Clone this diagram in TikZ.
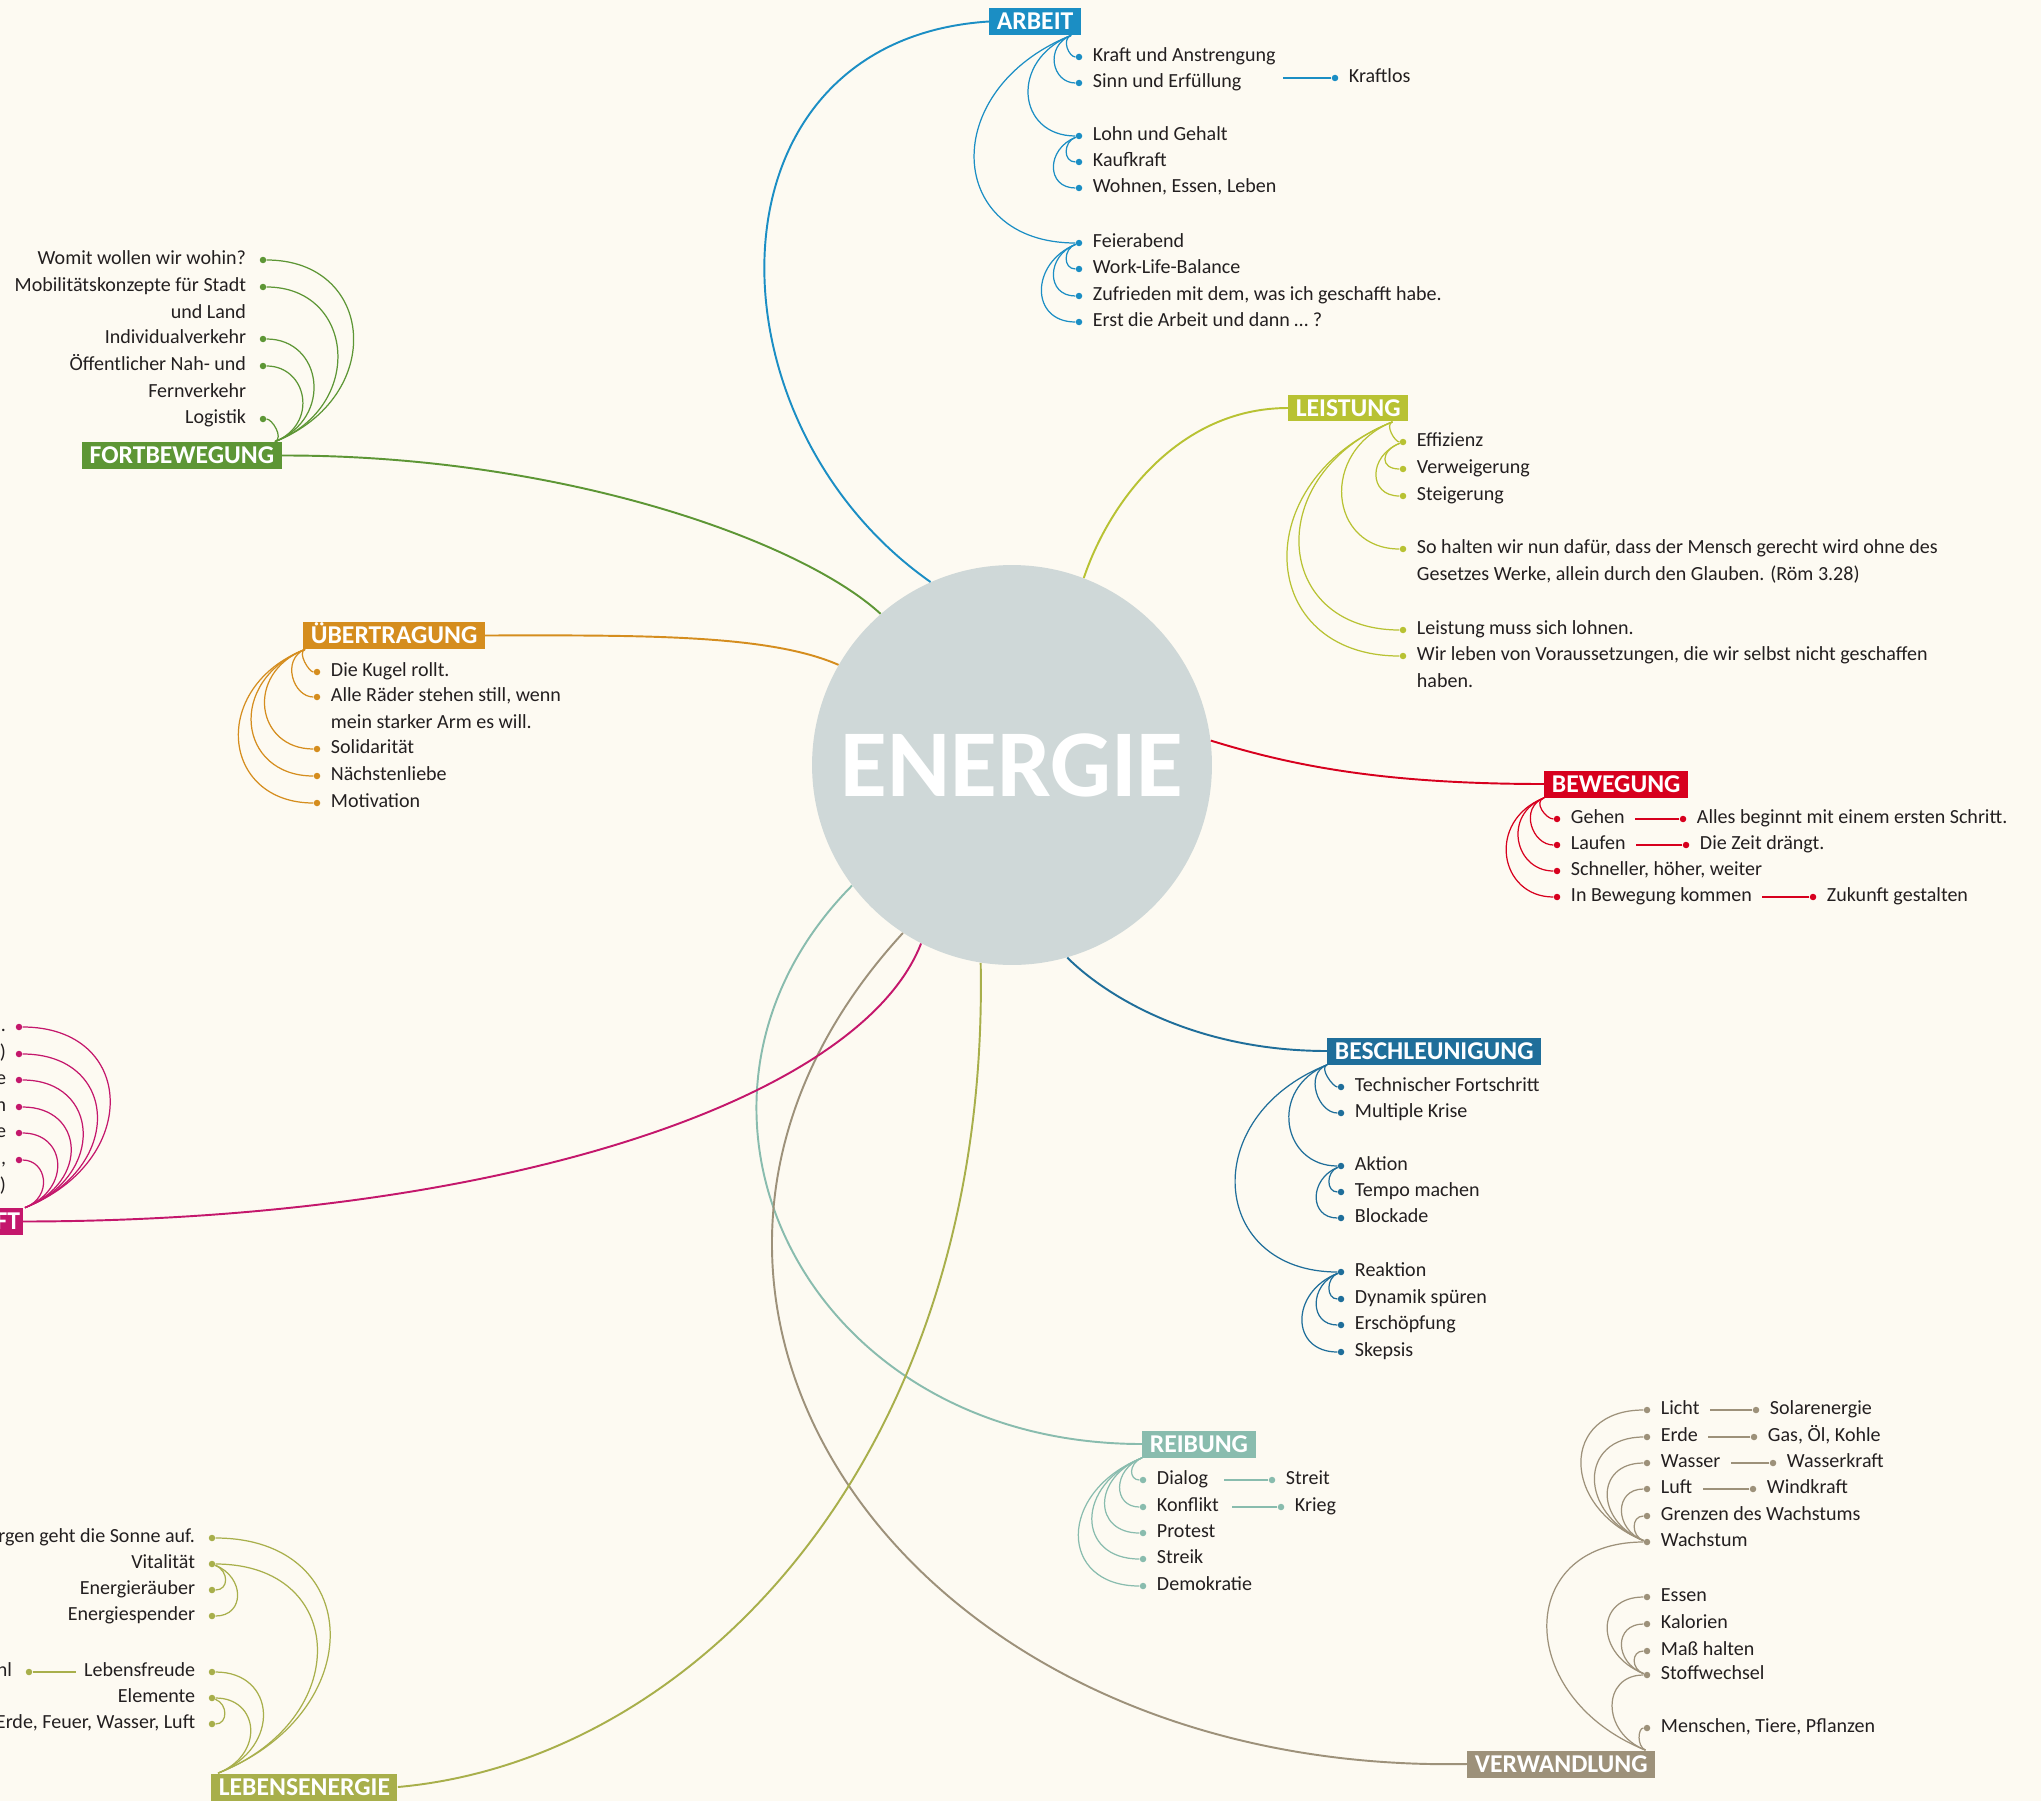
\documentclass[tikz,border=0pt]{standalone}
\usepackage{fontspec}
\setmainfont{Carlito}
\usepackage{xcolor}
\usepackage{tikz}

\definecolor{paper}{HTML}{FDFAF2}
\definecolor{ink}{HTML}{231F20}
\definecolor{hub}{HTML}{CFD8D8}
\definecolor{arbC}{HTML}{1B8EC4}
\definecolor{leiC}{HTML}{B8C233}
\definecolor{bewC}{HTML}{D7001E}
\definecolor{besC}{HTML}{1F6E9A}
\definecolor{reiC}{HTML}{89BCAE}
\definecolor{verC}{HTML}{9D917A}
\definecolor{lebC}{HTML}{A8AF4B}
\definecolor{kraC}{HTML}{C4176C}
\definecolor{ubeC}{HTML}{D58D1E}
\definecolor{forC}{HTML}{5D9635}

\newcommand{\itemfont}{\fontsize{11.4}{15.2}\selectfont}
\newcommand{\topicfont}{\bfseries\fontsize{14.6}{16}\selectfont}
\newcommand{\hubfont}{\bfseries\fontsize{54.5}{60}\selectfont}

\begin{document}
\begin{tikzpicture}[
  x=0.02cm, y=-0.02cm,
  label distance=0.2cm,
  topic/.style={fill=#1, text=white, font=\topicfont, inner xsep=0.15cm,
                inner ysep=0pt, minimum height=0.54cm, text height=9.4pt, text depth=0pt},
  dot/.style={circle, fill=#1, inner sep=0pt, minimum size=0.13cm},
  txt/.style={font=\itemfont, text=ink, inner sep=0pt, anchor=base west, yshift=-0.09cm},
  txl/.style={txt, anchor=base east, xshift=-0.06cm},
  main/.style={line width=1.1pt},
  twig/.style={line width=0.7pt}
]
  \useasboundingbox (0,0) rectangle (2041,1801);
  \clip (0,0) rectangle (2041,1801);
  \fill[paper] (0,0) rectangle (2041,1801);

  % Centre
  \node[circle, fill=hub, minimum size=8cm, inner sep=0pt, text=white, font=\hubfont]
    (energie) at (1012,765) {ENERGIE};

  % Topics
  \node[topic=arbC, anchor=west] (arbeit) at (989,21.5) {ARBEIT};
  \node[topic=leiC, anchor=west] (leistung) at (1288,408) {LEISTUNG};
  \node[topic=bewC, anchor=west] (bewegung) at (1544,784) {BEWEGUNG};
  \node[topic=besC, anchor=west] (beschleunigung) at (1327,1051) {BESCHLEUNIGUNG};
  \node[topic=reiC, anchor=west] (reibung) at (1142,1444) {REIBUNG};
  \node[topic=verC, anchor=west] (verwandlung) at (1467,1764) {VERWANDLUNG};
  \node[topic=lebC, anchor=west] (lebensenergie) at (211,1787) {LEBENSENERGIE};
  \node[topic=kraC, anchor=east, inner xsep=0.05cm] (kraft) at (23,1221.5) {KRAFT};
  \node[topic=ubeC, anchor=west] (uebertragung) at (303,635.5) {ÜBERTRAGUNG};
  \node[topic=forC, anchor=east] (fortbewegung) at (282,455.5) {FORTBEWEGUNG};

  % Main connectors
  \draw[main, arbC] (energie.114) .. controls (700,420) and (700,40) .. (arbeit.west);
  \draw[main, leiC] (energie.69) .. controls (1110,500) and (1180,408) .. (leistung.west);
  \draw[main, bewC] (energie.7) .. controls (1290,765) and (1380,784) .. (bewegung.west);
  \draw[main, besC] (energie.286) .. controls (1110,1000) and (1200,1051) .. (beschleunigung.west);
  \draw[main, reiC] (energie.217) .. controls (640,1100) and (800,1444) .. (reibung.west);
  \draw[main, verC] (energie.237) .. controls (575,1290) and (900,1775) .. (verwandlung.west);
  \draw[main, lebC] (energie.261) .. controls (990,1450) and (700,1760) .. (lebensenergie.east);
  \draw[main, kraC] (energie.243) .. controls (860,1100) and (500,1221) .. (kraft.east);
  \draw[main, ubeC] (energie.150) .. controls (770,635) and (650,635) .. (uebertragung.east);
  \draw[main, forC] (energie.131) .. controls (800,540) and (560,455) .. (fortbewegung.east);

  % Roots of the branches
  \coordinate (arbeitR) at ([xshift=-0.2cm]arbeit.south east);
  \coordinate (leistungR) at ([xshift=-0.32cm]leistung.south east);
  \coordinate (verwandlungR) at ([xshift=-0.2cm]verwandlung.north east);
  \coordinate (lebensR) at ([xshift=0.14cm]lebensenergie.north west);
  \coordinate (fortR) at ([xshift=-0.14cm]fortbewegung.north east);
  \coordinate (kraftR) at ([xshift=0.04cm]kraft.north east);
  \coordinate (uebertragungR) at ([xshift=0.04cm]uebertragung.south west);

  % Arbeit
  \node[dot=arbC, label={[txt]right:Kraft und Anstrengung}] (anstrengung) at (1079,57) {};
  \node[dot=arbC, label={[txt, name=sinnT]right:Sinn und Erfüllung}] (sinn) at (1079,83) {};
  \node[dot=arbC, label={[txt]right:Kraftlos}] (kraftlos) at (1335,78) {};
  \node[dot=arbC, label={[txt]right:Lohn und Gehalt}] (lohn) at (1079,136) {};
  \node[dot=arbC, label={[txt]right:Kaufkraft}] (kaufkraft) at (1079,162) {};
  \node[dot=arbC, label={[txt]right:{Wohnen, Essen, Leben}}] (wohnen) at (1079,188) {};
  \node[dot=arbC, label={[txt]right:Feierabend}] (feierabend) at (1079,243) {};
  \node[dot=arbC, label={[txt]right:Work-Life-Balance}] (balance) at (1079,269) {};
  \node[dot=arbC, label={[txt]right:{Zufrieden mit dem, was ich geschafft habe.}}] (zufrieden) at (1079,296) {};
  \node[dot=arbC, label={[txt]right:{Erst die Arbeit und dann … ?}}] (erst) at (1079,322) {};

  \draw[twig, arbC] (arbeitR) .. controls +(-10,4) and +(-10,0) .. (anstrengung);
  \draw[twig, arbC] (arbeitR) .. controls +(-27,11) and +(-27,0) .. (sinn);
  \draw[twig, arbC] (arbeitR) .. controls +(-62,25) and +(-62,0) .. (lohn);
  \draw[twig, arbC] (arbeitR) .. controls +(-134,54) and +(-134,0) .. (feierabend);
  \draw[twig, arbC] (lohn) .. controls +(-16,6) and +(-16,0) .. (kaufkraft);
  \draw[twig, arbC] (lohn) .. controls +(-33,13) and +(-33,0) .. (wohnen);
  \draw[twig, arbC] (feierabend) .. controls +(-16,6) and +(-16,0) .. (balance);
  \draw[twig, arbC] (feierabend) .. controls +(-33,13) and +(-33,0) .. (zufrieden);
  \draw[twig, arbC] (feierabend) .. controls +(-49,20) and +(-49,0) .. (erst);
  \draw[twig, arbC, shorten >=0.82cm] (kraftlos) -- (kraftlos -| sinnT.east);

  % Leistung
  \node[dot=leiC, label={[txt]right:Effizienz}] (effizienz) at (1403,442) {};
  \node[dot=leiC, label={[txt]right:Verweigerung}] (verweigerung) at (1403,469) {};
  \node[dot=leiC, label={[txt]right:Steigerung}] (steigerung) at (1403,496) {};
  \node[dot=leiC, label={[txt]right:{\begin{tabular}[t]{@{}l@{}}So halten wir nun dafür, dass der Mensch gerecht wird ohne des\\Gesetzes Werke, allein durch den Glauben. (Röm 3.28)\end{tabular}}}] (sohalten) at (1403,549) {};
  \node[dot=leiC, label={[txt]right:Leistung muss sich lohnen.}] (lohnen) at (1403,630) {};
  \node[dot=leiC, label={[txt]right:{\begin{tabular}[t]{@{}l@{}}Wir leben von Voraussetzungen, die wir selbst nicht geschaffen\\haben.\end{tabular}}}] (wirleben) at (1403,656) {};

  \draw[twig, leiC] (leistungR) .. controls +(-8,3) and +(-8,0) .. (effizienz);
  \draw[twig, leiC] (leistungR) .. controls +(-74,30) and +(-74,0) .. (sohalten);
  \draw[twig, leiC] (leistungR) .. controls +(-131,52) and +(-131,0) .. (lohnen);
  \draw[twig, leiC] (leistungR) .. controls +(-147,59) and +(-147,0) .. (wirleben);
  \draw[twig, leiC] (effizienz) .. controls +(-23,9) and +(-23,0) .. (verweigerung);
  \draw[twig, leiC] (effizienz) .. controls +(-35,14) and +(-35,0) .. (steigerung);

  % Bewegung
  \node[dot=bewC, label={[txt, name=gehenT]right:Gehen}] (gehen) at (1557,819) {};
  \node[dot=bewC, label={[txt]right:Alles beginnt mit einem ersten Schritt.}] (schritt) at (1683,819) {};
  \node[dot=bewC, label={[txt, name=laufenT]right:Laufen}] (laufen) at (1557,845) {};
  \node[dot=bewC, label={[txt]right:Die Zeit drängt.}] (zeit) at (1686,845) {};
  \node[dot=bewC, label={[txt]right:{Schneller, höher, weiter}}] (schneller) at (1557,871) {};
  \node[dot=bewC, label={[txt, name=inbewegungT]right:In Bewegung kommen}] (inbewegung) at (1557,897) {};
  \node[dot=bewC, label={[txt]right:Zukunft gestalten}] (zukunft) at (1813,897) {};

  \draw[twig, bewC] (bewegung.south west) .. controls +(-11,4) and +(-11,0) .. (gehen);
  \draw[twig, bewC] (bewegung.south west) .. controls +(-25,10) and +(-25,0) .. (laufen);
  \draw[twig, bewC] (bewegung.south west) .. controls +(-42,17) and +(-42,0) .. (schneller);
  \draw[twig, bewC] (bewegung.south west) .. controls +(-58,23) and +(-58,0) .. (inbewegung);
  \draw[twig, bewC, shorten >=0.2cm] (schritt) -- (schritt -| gehenT.east);
  \draw[twig, bewC, shorten >=0.2cm] (zeit) -- (zeit -| laufenT.east);
  \draw[twig, bewC, shorten >=0.2cm] (zukunft) -- (zukunft -| inbewegungT.east);

  % Beschleunigung
  \node[dot=besC, label={[txt]right:Technischer Fortschritt}] (technik) at (1341,1087) {};
  \node[dot=besC, label={[txt]right:Multiple Krise}] (krise) at (1341,1113) {};
  \node[dot=besC, label={[txt]right:Aktion}] (aktion) at (1341,1166) {};
  \node[dot=besC, label={[txt]right:Tempo machen}] (tempo) at (1341,1192) {};
  \node[dot=besC, label={[txt]right:Blockade}] (blockade) at (1341,1218) {};
  \node[dot=besC, label={[txt]right:Reaktion}] (reaktion) at (1341,1272) {};
  \node[dot=besC, label={[txt]right:Dynamik spüren}] (dynamik) at (1341,1299) {};
  \node[dot=besC, label={[txt]right:Erschöpfung}] (erschoepfung) at (1341,1325) {};
  \node[dot=besC, label={[txt]right:Skepsis}] (skepsis) at (1341,1352) {};

  \draw[twig, besC] (beschleunigung.south west) .. controls +(-8,3) and +(-8,0) .. (technik);
  \draw[twig, besC] (beschleunigung.south west) .. controls +(-23,9) and +(-23,0) .. (krise);
  \draw[twig, besC] (beschleunigung.south west) .. controls +(-59,24) and +(-59,0) .. (aktion);
  \draw[twig, besC] (beschleunigung.south west) .. controls +(-131,52) and +(-131,0) .. (reaktion);
  \draw[twig, besC] (aktion) .. controls +(-15,6) and +(-15,0) .. (tempo);
  \draw[twig, besC] (aktion) .. controls +(-32,13) and +(-32,0) .. (blockade);
  \draw[twig, besC] (reaktion) .. controls +(-15,6) and +(-15,0) .. (dynamik);
  \draw[twig, besC] (reaktion) .. controls +(-32,13) and +(-32,0) .. (erschoepfung);
  \draw[twig, besC] (reaktion) .. controls +(-51,20) and +(-51,0) .. (skepsis);

  % Reibung
  \node[dot=reiC, label={[txt, name=dialogT]right:Dialog}] (dialog) at (1143,1480) {};
  \node[dot=reiC, label={[txt]right:Streit}] (streit) at (1272,1480) {};
  \node[dot=reiC, label={[txt, name=konfliktT]right:Konflikt}] (konflikt) at (1143,1507) {};
  \node[dot=reiC, label={[txt]right:Krieg}] (krieg) at (1281,1507) {};
  \node[dot=reiC, label={[txt]right:Protest}] (protest) at (1143,1533) {};
  \node[dot=reiC, label={[txt]right:Streik}] (streik) at (1143,1559) {};
  \node[dot=reiC, label={[txt]right:Demokratie}] (demokratie) at (1143,1586) {};

  \draw[twig, reiC] (reibung.south west) .. controls +(-14,6) and +(-14,0) .. (dialog);
  \draw[twig, reiC] (reibung.south west) .. controls +(-30,12) and +(-30,0) .. (konflikt);
  \draw[twig, reiC] (reibung.south west) .. controls +(-50,20) and +(-50,0) .. (protest);
  \draw[twig, reiC] (reibung.south west) .. controls +(-67,27) and +(-67,0) .. (streik);
  \draw[twig, reiC] (reibung.south west) .. controls +(-85,34) and +(-85,0) .. (demokratie);
  \draw[twig, reiC, shorten >=0.32cm] (streit) -- (streit -| dialogT.east);
  \draw[twig, reiC, shorten >=0.26cm] (krieg) -- (krieg -| konfliktT.east);

  % Verwandlung
  \node[dot=verC, label={[txt, name=lichtT]right:Licht}] (licht) at (1647,1410) {};
  \node[dot=verC, label={[txt]right:Solarenergie}] (solar) at (1756,1410) {};
  \node[dot=verC, label={[txt, name=erdeT]right:Erde}] (erde) at (1647,1437) {};
  \node[dot=verC, label={[txt]right:{Gas, Öl, Kohle}}] (gas) at (1754,1437) {};
  \node[dot=verC, label={[txt, name=wasserT]right:Wasser}] (wasser) at (1647,1463) {};
  \node[dot=verC, label={[txt]right:Wasserkraft}] (wasserkraft) at (1773,1463) {};
  \node[dot=verC, label={[txt, name=luftT]right:Luft}] (luft) at (1647,1489) {};
  \node[dot=verC, label={[txt]right:Windkraft}] (windkraft) at (1753,1489) {};
  \node[dot=verC, label={[txt]right:Grenzen des Wachstums}] (grenzen) at (1647,1516) {};
  \node[dot=verC, label={[txt]right:Wachstum}] (wachstum) at (1647,1542) {};
  \node[dot=verC, label={[txt]right:Essen}] (essen) at (1647,1597) {};
  \node[dot=verC, label={[txt]right:Kalorien}] (kalorien) at (1647,1624) {};
  \node[dot=verC, label={[txt]right:Maß halten}] (mass) at (1647,1651) {};
  \node[dot=verC, label={[txt]right:Stoffwechsel}] (stoffwechsel) at (1647,1675) {};
  \node[dot=verC, label={[txt]right:{Menschen, Tiere, Pflanzen}}] (menschen) at (1647,1728) {};

  \draw[twig, verC] (verwandlungR) .. controls +(-132,-53) and +(-132,0) .. (wachstum);
  \draw[twig, verC] (verwandlungR) .. controls +(-45,-18) and +(-45,0) .. (stoffwechsel);
  \draw[twig, verC] (verwandlungR) .. controls +(-9,-4) and +(-9,0) .. (menschen);
  \draw[twig, verC] (wachstum) .. controls +(-87,-35) and +(-87,0) .. (licht);
  \draw[twig, verC] (wachstum) .. controls +(-69,-28) and +(-69,0) .. (erde);
  \draw[twig, verC] (wachstum) .. controls +(-52,-21) and +(-52,0) .. (wasser);
  \draw[twig, verC] (wachstum) .. controls +(-33,-13) and +(-33,0) .. (luft);
  \draw[twig, verC] (wachstum) .. controls +(-16,-6) and +(-16,0) .. (grenzen);
  \draw[twig, verC] (stoffwechsel) .. controls +(-52,-21) and +(-52,0) .. (essen);
  \draw[twig, verC] (stoffwechsel) .. controls +(-33,-13) and +(-33,0) .. (kalorien);
  \draw[twig, verC] (stoffwechsel) .. controls +(-16,-6) and +(-16,0) .. (mass);
  \draw[twig, verC, shorten >=0.2cm] (solar) -- (solar -| lichtT.east);
  \draw[twig, verC, shorten >=0.2cm] (gas) -- (gas -| erdeT.east);
  \draw[twig, verC, shorten >=0.2cm] (wasserkraft) -- (wasserkraft -| wasserT.east);
  \draw[twig, verC, shorten >=0.2cm] (windkraft) -- (windkraft -| luftT.east);

  % Lebensenergie
  \node[dot=lebC, label={[txl]left:rgen geht die Sonne auf.}] (sonne) at (212,1538) {};
  \node[dot=lebC, label={[txl]left:Vitalität}] (vitalitaet) at (212,1564) {};
  \node[dot=lebC, label={[txl]left:Energieräuber}] (raeuber) at (212,1590) {};
  \node[dot=lebC, label={[txl]left:Energiespender}] (spender) at (212,1616) {};
  \node[dot=lebC, label={[txl, name=freudeT]left:Lebensfreude}] (freude) at (212,1672) {};
  \node[dot=lebC, label={[txl]left:hl}] (freudeL) at (29,1672) {};
  \node[dot=lebC, label={[txl]left:Elemente}] (elemente) at (212,1698) {};
  \node[dot=lebC, label={[txl]left:{Erde, Feuer, Wasser, Luft}}] (elemente4) at (212,1724) {};

  \draw[twig, lebC] (lebensR) .. controls +(153,-61) and +(153,0) .. (sonne);
  \draw[twig, lebC] (lebensR) .. controls +(136,-54) and +(136,0) .. (vitalitaet);
  \draw[twig, lebC] (lebensR) .. controls +(64,-26) and +(64,0) .. (freude);
  \draw[twig, lebC] (lebensR) .. controls +(47,-19) and +(47,0) .. (elemente);
  \draw[twig, lebC] (vitalitaet) .. controls +(17,7) and +(17,0) .. (raeuber);
  \draw[twig, lebC] (vitalitaet) .. controls +(33,13) and +(33,0) .. (spender);
  \draw[twig, lebC] (elemente) .. controls +(16,6) and +(16,0) .. (elemente4);
  \draw[twig, lebC, shorten >=0.16cm] (freudeL) -- (freudeL -| freudeT.west);

  % Kraft
  \node[dot=kraC, label={[txl, xshift=0.08cm]left:.}] (kraft1) at (19,1027) {};
  \node[dot=kraC, label={[txl, xshift=0.08cm]left:)}] (kraft2) at (19,1054) {};
  \node[dot=kraC, label={[txl, xshift=0.08cm]left:e}] (kraft3) at (19,1080) {};
  \node[dot=kraC, label={[txl, xshift=0.08cm]left:n}] (kraft4) at (19,1107) {};
  \node[dot=kraC, label={[txl, xshift=0.08cm]left:e}] (kraft5) at (19,1133) {};
  \node[dot=kraC, label={[txl, xshift=0.08cm]left:{\begin{tabular}[t]{@{}r@{}},\\)\end{tabular}}}] (kraft6) at (19,1160) {};

  \draw[twig, kraC] (kraftR) .. controls +(117,-47) and +(117,0) .. (kraft1);
  \draw[twig, kraC] (kraftR) .. controls +(100,-40) and +(100,0) .. (kraft2);
  \draw[twig, kraC] (kraftR) .. controls +(81,-32) and +(81,0) .. (kraft3);
  \draw[twig, kraC] (kraftR) .. controls +(65,-26) and +(65,0) .. (kraft4);
  \draw[twig, kraC] (kraftR) .. controls +(47,-19) and +(47,0) .. (kraft5);
  \draw[twig, kraC] (kraftR) .. controls +(28,-11) and +(28,0) .. (kraft6);

  % Fortbewegung
  \node[dot=forC, label={[txl]left:Womit wollen wir wohin?}] (womit) at (263,260) {};
  \node[dot=forC, label={[txl]left:{\begin{tabular}[t]{@{}r@{}}Mobilitätskonzepte für Stadt\\und Land\end{tabular}}}] (mobil) at (263,287) {};
  \node[dot=forC, label={[txl]left:Individualverkehr}] (individual) at (263,339) {};
  \node[dot=forC, label={[txl]left:{\begin{tabular}[t]{@{}r@{}}Öffentlicher Nah- und\\Fernverkehr\end{tabular}}}] (oeffentlich) at (263,366) {};
  \node[dot=forC, label={[txl]left:Logistik}] (logistik) at (263,419) {};

  \draw[twig, forC] (fortR) .. controls +(112,-45) and +(112,0) .. (womit);
  \draw[twig, forC] (fortR) .. controls +(91,-36) and +(91,0) .. (mobil);
  \draw[twig, forC] (fortR) .. controls +(59,-24) and +(59,0) .. (individual);
  \draw[twig, forC] (fortR) .. controls +(44,-18) and +(44,0) .. (oeffentlich);
  \draw[twig, forC] (fortR) .. controls +(9,-4) and +(9,0) .. (logistik);

  % Uebertragung
  \node[dot=ubeC, label={[txt]right:Die Kugel rollt.}] (kugel) at (317,672) {};
  \node[dot=ubeC, label={[txt]right:{\begin{tabular}[t]{@{}l@{}}Alle Räder stehen still, wenn\\mein starker Arm es will.\end{tabular}}}] (raeder) at (317,697) {};
  \node[dot=ubeC, label={[txt]right:Solidarität}] (solidaritaet) at (317,749) {};
  \node[dot=ubeC, label={[txt]right:Nächstenliebe}] (naechstenliebe) at (317,776) {};
  \node[dot=ubeC, label={[txt]right:Motivation}] (motivation) at (317,803) {};

  \draw[twig, ubeC] (uebertragungR) .. controls +(-8,3) and +(-8,0) .. (kugel);
  \draw[twig, ubeC] (uebertragungR) .. controls +(-24,10) and +(-24,0) .. (raeder);
  \draw[twig, ubeC] (uebertragungR) .. controls +(-61,24) and +(-61,0) .. (solidaritaet);
  \draw[twig, ubeC] (uebertragungR) .. controls +(-79,32) and +(-79,0) .. (naechstenliebe);
  \draw[twig, ubeC] (uebertragungR) .. controls +(-96,38) and +(-96,0) .. (motivation);
\end{tikzpicture}
\end{document}
